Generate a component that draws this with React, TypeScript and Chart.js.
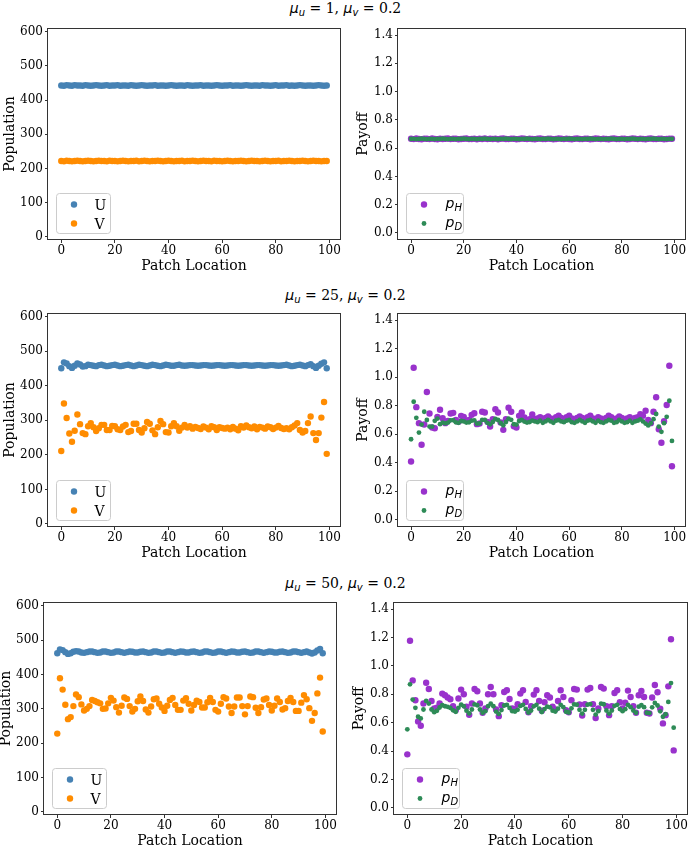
import React, { useEffect, useRef } from "react";
import { Chart, registerables } from "chart.js";
Chart.register(...registerables);

const SERIF = "'DejaVu Serif', serif";
const SANS = "'DejaVu Sans', sans-serif";

// ---------- data ----------
const PATCH = Array.from({ length: 100 }, (_, i) => i);
const X_TICKS = [0, 20, 40, 60, 80, 100];
const POP_TICKS = [0, 100, 200, 300, 400, 500, 600];
const PAY_TICKS = [0, 0.2, 0.4, 0.6, 0.8, 1.0, 1.2, 1.4];
const MU_U = [1, 25, 50];
const MU_V = [0.2, 0.2, 0.2];

const U1 = [443,442,444,443,442,444,443,443,442,444,443,442,443,444,443,442,443,444,442,443,443,444,442,443,443,442,444,443,442,443,444,443,442,443,443,444,442,443,443,442,443,444,443,442,443,443,442,444,443,442,443,443,444,442,443,443,442,443,444,443,442,443,443,444,442,443,443,442,443,444,443,442,443,443,442,444,443,443,442,443,444,442,443,443,444,442,443,442,443,444,443,442,443,443,442,443,444,443,442,443];
const V1 = [222,221,223,222,221,222,223,222,221,222,223,222,221,222,223,222,222,221,223,222,222,221,222,223,222,221,222,222,223,221,222,223,222,221,222,222,223,222,221,222,223,222,221,222,222,223,221,222,222,223,222,221,222,223,222,222,221,223,222,222,221,222,223,222,221,222,222,223,222,221,222,223,222,222,221,222,223,222,221,222,222,223,221,222,222,223,222,221,222,222,223,222,221,222,223,222,222,221,222,222];
const PH1 = [0.666,0.664,0.668,0.665,0.663,0.667,0.666,0.664,0.668,0.665,0.663,0.667,0.665,0.666,0.668,0.664,0.666,0.667,0.663,0.665,0.666,0.668,0.664,0.665,0.667,0.663,0.666,0.665,0.668,0.664,0.666,0.665,0.667,0.663,0.666,0.668,0.665,0.664,0.667,0.666,0.663,0.665,0.668,0.666,0.664,0.667,0.665,0.663,0.666,0.668,0.665,0.664,0.667,0.666,0.663,0.665,0.668,0.666,0.664,0.667,0.665,0.663,0.666,0.668,0.665,0.664,0.667,0.666,0.663,0.665,0.668,0.666,0.664,0.667,0.665,0.663,0.666,0.668,0.665,0.664,0.667,0.666,0.663,0.665,0.668,0.666,0.664,0.667,0.665,0.663,0.666,0.668,0.665,0.664,0.667,0.666,0.663,0.665,0.667,0.666];
const PD1 = [0.665,0.666,0.664,0.665,0.667,0.665,0.664,0.666,0.665,0.664,0.666,0.665,0.667,0.665,0.664,0.666,0.665,0.664,0.666,0.665,0.667,0.665,0.664,0.666,0.665,0.664,0.666,0.665,0.667,0.665,0.664,0.666,0.665,0.664,0.666,0.665,0.667,0.665,0.664,0.666,0.665,0.664,0.666,0.665,0.667,0.665,0.664,0.666,0.665,0.664,0.666,0.665,0.667,0.665,0.664,0.666,0.665,0.664,0.666,0.665,0.667,0.665,0.664,0.666,0.665,0.664,0.666,0.665,0.667,0.665,0.664,0.666,0.665,0.664,0.666,0.665,0.667,0.665,0.664,0.666,0.665,0.664,0.666,0.665,0.667,0.665,0.664,0.666,0.665,0.664,0.666,0.665,0.667,0.665,0.664,0.666,0.665,0.664,0.666,0.665];

const U2 = [451,468,465,457,452,458,465,462,456,457,461,460,458,457,460,461,459,457,458,460,461,459,457,458,460,461,459,457,459,461,460,458,457,459,461,460,458,457,459,461,460,458,458,460,461,459,458,459,460,460,459,458,459,460,460,459,458,459,460,460,459,458,459,460,460,459,458,459,460,460,459,458,459,460,460,459,458,459,460,460,459,458,459,460,461,459,457,458,460,461,459,457,460,463,457,452,458,464,468,451];
const V2 = [211,349,307,262,238,270,317,289,263,260,283,292,280,269,277,287,287,272,272,284,283,274,272,282,287,266,269,290,290,272,265,277,295,290,271,260,280,298,289,266,265,283,292,283,270,279,287,279,283,276,281,278,275,282,279,274,283,280,272,280,278,276,279,274,281,276,271,283,279,285,280,277,282,274,281,279,276,282,280,275,279,284,278,275,277,274,280,285,292,272,265,269,292,311,263,243,263,308,353,203];
const PH2 = [0.409,1.066,0.79,0.678,0.527,0.668,0.896,0.746,0.647,0.642,0.722,0.772,0.713,0.678,0.694,0.746,0.75,0.70,0.687,0.729,0.722,0.694,0.70,0.736,0.748,0.671,0.675,0.758,0.753,0.687,0.654,0.706,0.776,0.753,0.682,0.631,0.706,0.786,0.758,0.656,0.647,0.729,0.753,0.718,0.694,0.706,0.739,0.705,0.71,0.72,0.70,0.715,0.725,0.71,0.70,0.72,0.73,0.715,0.705,0.72,0.73,0.71,0.70,0.715,0.725,0.715,0.70,0.72,0.73,0.71,0.705,0.72,0.71,0.70,0.715,0.73,0.72,0.705,0.71,0.725,0.715,0.70,0.71,0.72,0.705,0.715,0.72,0.74,0.729,0.765,0.70,0.678,0.758,0.859,0.635,0.541,0.692,0.805,1.08,0.376];
const PD2 = [0.565,0.828,0.715,0.612,0.668,0.758,0.70,0.654,0.654,0.694,0.71,0.671,0.682,0.677,0.682,0.698,0.699,0.684,0.68,0.693,0.69,0.682,0.684,0.695,0.698,0.675,0.676,0.701,0.70,0.68,0.67,0.686,0.707,0.70,0.679,0.663,0.686,0.71,0.701,0.671,0.668,0.693,0.70,0.689,0.682,0.686,0.696,0.69,0.685,0.695,0.68,0.69,0.70,0.69,0.68,0.695,0.70,0.69,0.685,0.695,0.70,0.685,0.68,0.69,0.70,0.69,0.68,0.695,0.70,0.69,0.68,0.695,0.685,0.68,0.69,0.70,0.695,0.68,0.685,0.70,0.69,0.68,0.685,0.695,0.68,0.69,0.695,0.705,0.69,0.675,0.662,0.678,0.706,0.742,0.654,0.617,0.678,0.722,0.835,0.553];

const U3 = [462,473,471,465,460,462,466,468,467,464,463,465,467,467,465,463,464,467,467,465,463,464,467,467,465,463,465,467,466,464,464,466,467,465,463,464,467,467,465,463,464,467,467,465,463,465,467,466,464,464,466,467,465,463,464,467,467,465,463,464,467,467,465,463,465,467,466,464,464,466,467,465,463,464,467,467,465,463,465,467,466,464,464,466,467,465,463,464,467,467,465,463,465,467,464,461,464,470,474,462];
const V3 = [228,389,356,312,270,276,308,342,334,313,295,300,308,326,323,319,316,300,301,316,332,324,305,289,309,333,329,308,292,300,322,336,323,298,289,307,328,330,315,304,294,309,326,332,311,297,297,324,331,315,295,311,324,320,304,304,319,332,320,297,292,315,334,330,307,288,307,333,333,308,284,308,336,334,303,288,305,327,330,311,295,309,330,320,298,302,323,332,320,294,294,318,340,328,302,265,288,345,391,234];
const PH3 = [0.377,1.177,0.898,0.758,0.609,0.579,0.735,0.881,0.837,0.753,0.70,0.705,0.735,0.805,0.793,0.777,0.765,0.716,0.688,0.77,0.833,0.80,0.712,0.656,0.735,0.837,0.821,0.735,0.67,0.70,0.80,0.851,0.80,0.693,0.646,0.723,0.816,0.828,0.767,0.70,0.695,0.73,0.805,0.828,0.746,0.674,0.716,0.798,0.828,0.753,0.684,0.744,0.793,0.777,0.712,0.693,0.753,0.828,0.781,0.688,0.674,0.758,0.837,0.833,0.728,0.651,0.73,0.833,0.844,0.73,0.633,0.70,0.851,0.84,0.716,0.653,0.716,0.809,0.828,0.744,0.70,0.74,0.826,0.781,0.716,0.67,0.793,0.823,0.781,0.67,0.665,0.777,0.865,0.814,0.698,0.595,0.653,0.856,1.188,0.405];
const PD3 = [0.553,0.87,0.763,0.705,0.642,0.63,0.693,0.753,0.735,0.693,0.674,0.684,0.707,0.723,0.716,0.712,0.704,0.687,0.677,0.705,0.727,0.716,0.685,0.665,0.693,0.729,0.723,0.693,0.67,0.681,0.716,0.734,0.716,0.678,0.662,0.689,0.721,0.726,0.704,0.681,0.679,0.691,0.718,0.726,0.697,0.672,0.686,0.715,0.726,0.699,0.675,0.696,0.713,0.708,0.685,0.678,0.699,0.726,0.709,0.677,0.672,0.701,0.729,0.727,0.691,0.664,0.691,0.727,0.731,0.691,0.657,0.681,0.734,0.73,0.686,0.664,0.686,0.719,0.726,0.696,0.681,0.695,0.725,0.709,0.686,0.67,0.713,0.724,0.709,0.67,0.668,0.708,0.739,0.721,0.68,0.642,0.66,0.746,0.879,0.565];

// ---------- styling ----------
const C_U = "#4682b4";
const C_V = "#ff8c00";
const C_PH = "#9932cc";
const C_PD = "#2e8b57";
const R_BIG = 3.2;
const R_SMALL = 2.4;

const PAD_T = 12;
const PAD_R = 16;
const PAD_B = 2;
const X_AXIS_H = 35;

type LegendItem = { label: string; sub?: string; color: string; r: number };

const spinePlugin = {
  id: "spines",
  afterDraw(chart: any) {
    const { ctx, chartArea: a } = chart;
    ctx.save();
    ctx.strokeStyle = "#333";
    ctx.lineWidth = 1;
    ctx.strokeRect(Math.round(a.left) - 0.5, Math.round(a.top) + 0.5, Math.round(a.right - a.left) + 1, Math.round(a.bottom - a.top) - 1);
    ctx.restore();
  },
};

const legendPlugin = {
  id: "mplLegend",
  afterDraw(chart: any, _args: any, opts: any) {
    const items: LegendItem[] = opts.items || [];
    const { ctx, chartArea: a } = chart;
    const lw = opts.width;
    const lh = 40;
    const lx = a.left + 8.5;
    const ly = a.bottom - 6.5 - lh;
    ctx.save();
    const r = 3;
    ctx.beginPath();
    ctx.moveTo(lx + r, ly);
    ctx.lineTo(lx + lw - r, ly);
    ctx.arcTo(lx + lw, ly, lx + lw, ly + r, r);
    ctx.lineTo(lx + lw, ly + lh - r);
    ctx.arcTo(lx + lw, ly + lh, lx + lw - r, ly + lh, r);
    ctx.lineTo(lx + r, ly + lh);
    ctx.arcTo(lx, ly + lh, lx, ly + lh - r, r);
    ctx.lineTo(lx, ly + r);
    ctx.arcTo(lx, ly, lx + r, ly, r);
    ctx.closePath();
    ctx.fillStyle = "rgba(255,255,255,0.8)";
    ctx.fill();
    ctx.strokeStyle = "#cccccc";
    ctx.lineWidth = 1;
    ctx.stroke();
    items.forEach((it, k) => {
      const cy = ly + 11 + k * 19;
      ctx.beginPath();
      ctx.arc(lx + 17.5, cy, it.r, 0, Math.PI * 2);
      ctx.fillStyle = it.color;
      ctx.fill();
      ctx.fillStyle = "#000";
      ctx.textBaseline = "alphabetic";
      ctx.textAlign = "left";
      if (it.sub) {
        ctx.font = `italic 14px ${SANS}`;
        ctx.fillText(it.label, lx + 39, cy + 3);
        const w = ctx.measureText(it.label).width;
        ctx.font = `italic 10px ${SANS}`;
        ctx.fillText(it.sub, lx + 39 + w, cy + 6);
      } else {
        ctx.font = `14px ${SERIF}`;
        ctx.fillText(it.label, lx + 38, cy + 5);
      }
    });
    ctx.restore();
  },
};

type Spec = {
  left: number; top: number; w: number; h: number; yW: number;
  kind: "pop" | "pay";
  a: number[]; b: number[];
};

function Panel({ s }: { s: Spec }) {
  const ref = useRef<HTMLCanvasElement>(null);
  const cw = s.yW + s.w + PAD_R;
  const ch = PAD_T + s.h + X_AXIS_H + PAD_B;
  useEffect(() => {
    const pop = s.kind === "pop";
    const mk = (arr: number[]) => arr.map((y, i) => ({ x: PATCH[i], y }));
    const chart = new Chart(ref.current!, {
      type: "scatter",
      data: {
        datasets: [
          {
            label: pop ? "U" : "pH",
            data: mk(s.a),
            backgroundColor: pop ? C_U : C_PH,
            borderWidth: 0,
            pointRadius: R_BIG,
            pointHoverRadius: R_BIG,
            order: 2,
          },
          {
            label: pop ? "V" : "pD",
            data: mk(s.b),
            backgroundColor: pop ? C_V : C_PD,
            borderWidth: 0,
            pointRadius: pop ? R_BIG : R_SMALL,
            pointHoverRadius: pop ? R_BIG : R_SMALL,
            order: 1,
          },
        ],
      },
      options: {
        responsive: false,
        animation: false,
        devicePixelRatio: 1,
        layout: { padding: { left: 0, top: PAD_T, right: PAD_R, bottom: PAD_B } },
        plugins: {
          legend: { display: false },
          tooltip: { enabled: false },
          mplLegend: pop
            ? { width: 54, items: [{ label: "U", color: C_U, r: R_BIG }, { label: "V", color: C_V, r: R_BIG }] }
            : { width: 57, items: [{ label: "p", sub: "H", color: C_PH, r: R_BIG }, { label: "p", sub: "D", color: C_PD, r: R_SMALL }] },
        } as any,
        scales: {
          x: {
            type: "linear",
            min: -4.95,
            max: 103.95,
            afterBuildTicks: (sc: any) => { sc.ticks = X_TICKS.map((v) => ({ value: v })); },
            afterFit: (sc: any) => { sc.height = X_AXIS_H; },
            ticks: { font: { family: SERIF, size: 12 }, color: "#000", padding: 1, maxRotation: 0, autoSkip: false },
            grid: { drawOnChartArea: false, drawTicks: true, tickLength: 3, color: "#333" },
            border: { display: false },
            title: { display: true, text: "Patch Location", font: { family: SERIF, size: 14 }, color: "#000", padding: { top: 0, bottom: 0 } },
          },
          y: {
            type: "linear",
            min: pop ? -9 : -0.05,
            max: pop ? 611 : 1.45,
            afterBuildTicks: (sc: any) => { sc.ticks = (pop ? POP_TICKS : PAY_TICKS).map((v) => ({ value: v })); },
            afterFit: (sc: any) => { sc.width = s.yW; },
            ticks: {
              font: { family: SERIF, size: 12 }, color: "#000", padding: 2, autoSkip: false,
              callback: (v: any) => (pop ? String(Math.round(v)) : Number(v).toFixed(1)),
            },
            grid: { drawOnChartArea: false, drawTicks: true, tickLength: 3, color: "#333" },
            border: { display: false },
            title: { display: true, text: pop ? "Population" : "Payoff", font: { family: SERIF, size: 14 }, color: "#000", padding: { top: 2, bottom: 0 } },
          },
        },
      } as any,
      plugins: [spinePlugin, legendPlugin],
    });
    return () => chart.destroy();
  }, []);
  return (
    <canvas
      ref={ref}
      width={cw}
      height={ch}
      style={{ position: "absolute", left: s.left - s.yW, top: s.top - PAD_T, width: cw, height: ch }}
    />
  );
}

function Title({ top, i }: { top: number; i: number }) {
  const mu: React.CSSProperties = { fontFamily: SANS, fontStyle: "italic" };
  const sub: React.CSSProperties = { fontFamily: SANS, fontStyle: "italic", fontSize: 10, position: "relative", top: 3 };
  return (
    <div style={{ position: "absolute", left: 0, top, width: 691, textAlign: "center", fontFamily: SERIF, fontSize: 14, lineHeight: "16px", whiteSpace: "nowrap", color: "#000" }}>
      <span style={mu}>μ</span><span style={sub}>u</span> = {MU_U[i]}, <span style={mu}>μ</span><span style={sub}>v</span> = {MU_V[i]}
    </div>
  );
}

const SPECS: Spec[] = [
  { left: 48, top: 28, w: 292, h: 212, yW: 48, kind: "pop", a: U1, b: V1 },
  { left: 398, top: 28, w: 287, h: 212, yW: 45, kind: "pay", a: PH1, b: PD1 },
  { left: 48, top: 313, w: 292, h: 214, yW: 48, kind: "pop", a: U2, b: V2 },
  { left: 398, top: 313, w: 287, h: 214, yW: 45, kind: "pay", a: PH2, b: PD2 },
  { left: 44, top: 602, w: 292, h: 213, yW: 48, kind: "pop", a: U3, b: V3 },
  { left: 394, top: 602, w: 293, h: 213, yW: 45, kind: "pay", a: PH3, b: PD3 },
];

export default function App() {
  return (
    <div style={{ position: "absolute", left: 0, top: 0, width: 691, height: 846, background: "#fff", overflow: "hidden" }}>
      <Title top={0} i={0} />
      <Title top={287} i={1} />
      <Title top={575} i={2} />
      {SPECS.map((s, k) => (
        <Panel key={k} s={s} />
      ))}
    </div>
  );
}
